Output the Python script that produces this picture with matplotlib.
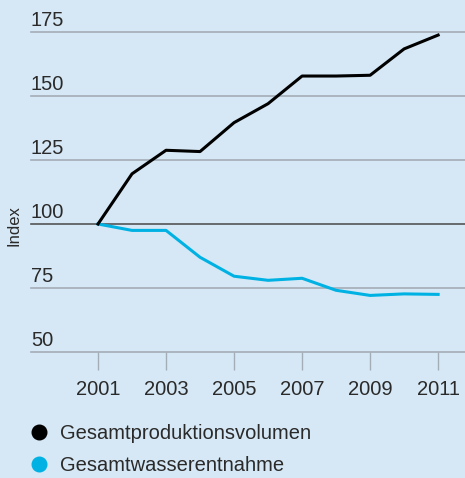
import matplotlib
matplotlib.use("Agg")
import matplotlib.pyplot as plt
from matplotlib.lines import Line2D
import matplotlib.transforms as mtransforms

jahre = [2001, 2002, 2003, 2004, 2005, 2006, 2007, 2008, 2009, 2010, 2011]
produktion = [100, 119.6, 128.8, 128.3, 139.6, 147.0, 157.8, 157.8, 158.1, 168.4, 173.8]
wasser = [100, 97.5, 97.5, 87.0, 79.6, 78.0, 78.8, 74.1, 72.1, 72.7, 72.5]
y_ticks = [50, 75, 100, 125, 150, 175]
x_ticks = [2001, 2003, 2005, 2007, 2009, 2011]
namen = ["Gesamtproduktionsvolumen", "Gesamtwasserentnahme"]

hintergrund = "#d6e8f5"
schwarz = "#000000"
blau = "#00b2e3"
grau = "#a3adb7"
text_farbe = "#2a2a2a"

plt.rcParams["font.family"] = ["Liberation Sans", "DejaVu Sans"]

fig = plt.figure(figsize=(4.65, 4.78), dpi=100, facecolor=hintergrund)
ax = fig.add_axes([31 / 465, 1 - 352 / 478, 1 - 31 / 465, 320 / 478])
ax.set_facecolor(hintergrund)

# horizontale Linien, 100 dunkler
for y in y_ticks:
    farbe = "#555555" if y == 100 else grau
    ax.axhline(y, color=farbe, lw=1.2, zorder=1, clip_on=False)

ax.plot(jahre, produktion, color=schwarz, lw=2.2, zorder=3, clip_on=False)
ax.plot(jahre, wasser, color=blau, lw=2.2, zorder=2, clip_on=False)

ax.set_xlim(1999.03, 2011.79)
ax.set_ylim(50, 175)
for s in ax.spines.values():
    s.set_visible(False)

# y-Beschriftung oberhalb der Linien
ax.set_yticks([])
trans = mtransforms.blended_transform_factory(ax.transAxes, ax.transData)
for y in y_ticks:
    ax.annotate(str(y), xy=(0, y), xycoords=trans, xytext=(0, 4.3),
                textcoords="offset points", ha="left", va="baseline",
                fontsize=14.5, color=text_farbe)

ax.set_xticks(x_ticks)
ax.set_xticklabels([str(x) for x in x_ticks])
ax.tick_params(axis="x", length=13, width=1, color=grau, pad=7,
               labelsize=14.5, labelcolor=text_farbe)

fig.text(14 / 465, 1 - 226 / 478, "Index", rotation=90, ha="center",
         va="center", fontsize=12, color=text_farbe)

handles = [Line2D([], [], ls="", marker="o", markersize=10.5, color=c)
           for c in [schwarz, blau]]
fig.legend(handles, namen, loc="upper left",
           bbox_to_anchor=(28.6 / 465, 1 - 424 / 478), frameon=False,
           fontsize=14.5, handlelength=1.0, handletextpad=0.56,
           labelspacing=0.63, labelcolor=text_farbe, borderaxespad=0,
           borderpad=0)

fig.savefig("out.png", dpi=100, facecolor=hintergrund)
